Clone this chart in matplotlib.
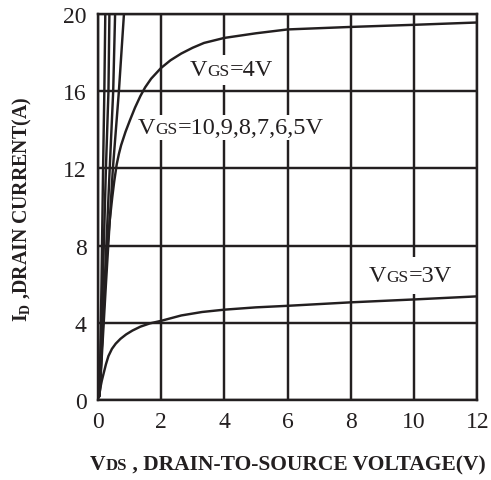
import matplotlib
matplotlib.use("Agg")
import matplotlib.pyplot as plt
from matplotlib.offsetbox import TextArea, HPacker, AnnotationBbox

plt.rcParams['font.family'] = ['Liberation Serif', 'DejaVu Serif']
plt.rcParams['mathtext.fontset'] = 'custom'
plt.rcParams['mathtext.rm'] = 'Liberation Serif'
plt.rcParams['mathtext.bf'] = 'Liberation Serif:bold'

# steep curves, VGS = 10,9,8,7,6,5 V (all share the same current points)
steep_y = [0.25, 6, 12, 16, 20]
steep_x = [
    [0.06, 0.12, 0.17, 0.21, 0.24],
    [0.06, 0.16, 0.26, 0.34, 0.37],
    [0.06, 0.22, 0.38, 0.49, 0.55],
    [0.06, 0.26, 0.48, 0.67, 0.83],
]

# VGS = 4 V
vgs4_x = [0.06, 0.14, 0.22, 0.3, 0.38, 0.46, 0.52, 0.6, 0.67, 0.74, 0.88, 1.02,
          1.18, 1.35, 1.5, 1.69, 2.0, 2.3, 2.64, 3.0, 3.36, 4.0, 5.0, 6.0, 8.0,
          10.0, 12.0]
vgs4_y = [0.25, 3.0, 5.6, 7.8, 9.3, 10.5, 11.3, 12.2, 12.75, 13.2, 13.9, 14.5,
          15.15, 15.75, 16.2, 16.65, 17.2, 17.6, 17.95, 18.25, 18.5, 18.76, 19.0,
          19.2, 19.33, 19.44, 19.56]

# VGS = 3 V
vgs3_x = [0.04, 0.08, 0.13, 0.18, 0.26, 0.34, 0.45, 0.57, 0.72, 0.9, 1.1, 1.35,
          1.65, 2.0, 2.64, 3.3, 4.0, 5.0, 6.0, 8.0, 10.0, 12.0]
vgs3_y = [0.15, 0.6, 1.0, 1.33, 1.85, 2.28, 2.65, 2.92, 3.17, 3.4, 3.6, 3.8,
          3.97, 4.1, 4.38, 4.56, 4.68, 4.8, 4.88, 5.06, 5.21, 5.37]

x_ticks = [0, 2, 4, 6, 8, 10, 12]
y_ticks = [0, 4, 8, 12, 16, 20]

INK = '#231f20'
LW = 1.75
BIG = 17.5
SMALL = 12.5
TICK = 17


def label_box(ax, parts, xy, xycoords='data', align=(0, 0.5), weight='normal', pad=0.35):
    # parts: list of (text, size)
    kids = [TextArea(t, textprops=dict(size=s, weight=weight, color=INK,
                                       family='Liberation Serif'))
            for t, s in parts]
    box = HPacker(children=kids, align="baseline", pad=0, sep=0)
    ab = AnnotationBbox(box, xy, xycoords=xycoords, box_alignment=align,
                        frameon=True, pad=pad,
                        bboxprops=dict(facecolor='white', edgecolor='none'))
    ab.set_zorder(5)
    ax.add_artist(ab)


fig = plt.figure(figsize=(4.91, 4.81), dpi=100)
fig.patch.set_facecolor('white')
ax = fig.add_axes([97.7 / 491, 1 - 401 / 481, (477.3 - 97.7) / 491, (401 - 15) / 481])

for xs in steep_x:
    ax.plot(xs, steep_y, color=INK, lw=LW, zorder=3)
ax.plot(vgs4_x, vgs4_y, color=INK, lw=LW, zorder=3)
ax.plot(vgs3_x, vgs3_y, color=INK, lw=LW, zorder=3)

ax.set_xlim(0, 12)
ax.set_ylim(0, 20)
ax.set_xticks(x_ticks)
ax.set_yticks(y_ticks)
ax.tick_params(length=0, labelsize=TICK, colors=INK)
ax.tick_params(axis='x', pad=8)
ax.tick_params(axis='y', pad=8)
ax.grid(True, color=INK, lw=LW)
ax.set_axisbelow(True)
for spine in ax.spines.values():
    spine.set_color(INK)
    spine.set_linewidth(LW)
    spine.set_zorder(4)

label_box(ax, [("V", BIG), ("GS", SMALL), ("=4V", BIG)], (2.92, 17.1))
label_box(ax, [("V", BIG), ("GS", SMALL), ("=10,9,8,7,6,5V", BIG)], (1.27, 14.1), pad=0.15)
label_box(ax, [("V", BIG), ("GS", SMALL), ("=3V", BIG)], (8.58, 6.45), pad=0.6)

# x axis title
label_box(ax, [("V", 15.5), ("DS", 12), (" , DRAIN-TO-SOURCE VOLTAGE(V)", 15.5)],
          (288 / 491, 1 - 465 / 481), xycoords='figure fraction', align=(0.5, 0.5),
          weight='bold', pad=0)

# y axis title
fig.text(22 / 491, 1 - 209 / 481, r'$\mathbf{I_{D}}$ ,DRAIN CURRENT(A)', rotation=90,
         ha='center', va='center', fontsize=14.3, fontweight='bold', color=INK)

plt.savefig('out.png', dpi=100, facecolor=fig.get_facecolor())
plt.close()
